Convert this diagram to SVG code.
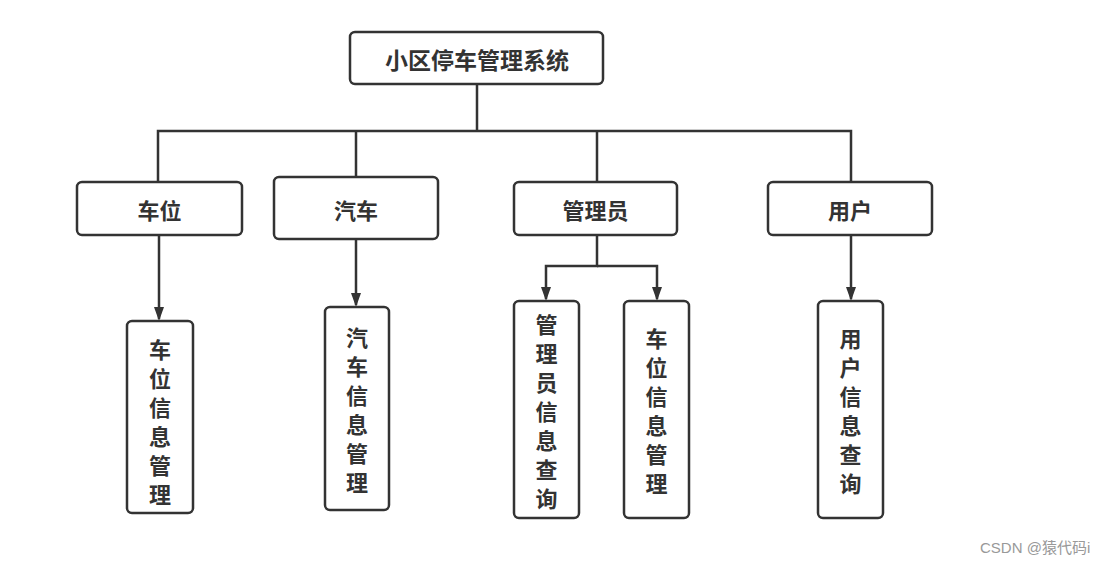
<svg xmlns="http://www.w3.org/2000/svg" width="1106" height="565" viewBox="0 0 1106 565">
<style>
.box{fill:#fff;stroke:#333;stroke-width:2.5}
.t{font-family:"Noto Sans CJK SC","Noto Sans",sans-serif;font-weight:bold;font-size:22px;fill:#333;text-anchor:middle;dominant-baseline:central}
.c{fill:none;stroke:#333;stroke-width:2.5}
.wm{font-family:"Liberation Sans","Noto Sans CJK SC",sans-serif;font-size:15px;fill:#999}
</style>
<defs>
<marker id="ah" viewBox="0 0 10 14" markerUnits="userSpaceOnUse" markerWidth="10" markerHeight="14" refX="5" refY="12" orient="0">
<path d="M0,0 L10,0 L5,14 z" fill="#333"/>
</marker>
</defs>
<rect width="1106" height="565" fill="#fff"/>
<g id="connectors">
<path class="c" d="M477,84 V131 M158,182 V131 H851 V182 M356,131 V177 M597,131 V182"/>
<path class="c" d="M159,235 V319" marker-end="url(#ah)"/>
<path class="c" d="M356,239 V305" marker-end="url(#ah)"/>
<path class="c" d="M597,235 V266 H546 V299" marker-end="url(#ah)"/>
<path class="c" d="M597,266 H657 V299" marker-end="url(#ah)"/>
<path class="c" d="M851,235 V299" marker-end="url(#ah)"/>
</g>
<g id="root"><rect class="box" x="350" y="32" width="253" height="52" rx="5"/><text class="t" x="477" y="59" style="font-size:23px">小区停车管理系统</text></g>
<g id="chewei"><rect class="box" x="77" y="182" width="165" height="53" rx="5"/><text class="t" x="159.5" y="209">车位</text></g>
<g id="qiche"><rect class="box" x="274" y="177" width="164" height="62" rx="5"/><text class="t" x="356" y="209">汽车</text></g>
<g id="admin"><rect class="box" x="514" y="182" width="163" height="53" rx="5"/><text class="t" x="595.5" y="209">管理员</text></g>
<g id="user"><rect class="box" x="768" y="182" width="164" height="53" rx="5"/><text class="t" x="850" y="209">用户</text></g>
<g id="chewei-info"><rect class="box" x="127" y="321" width="66" height="192" rx="5"/>
<text class="t" x="160"><tspan x="160" y="348">车</tspan><tspan x="160" y="377">位</tspan><tspan x="160" y="406">信</tspan><tspan x="160" y="435">息</tspan><tspan x="160" y="464">管</tspan><tspan x="160" y="493">理</tspan></text></g>
<g id="qiche-info"><rect class="box" x="325" y="307" width="64" height="203" rx="5"/>
<text class="t" x="357"><tspan x="357" y="336">汽</tspan><tspan x="357" y="365">车</tspan><tspan x="357" y="394">信</tspan><tspan x="357" y="423">息</tspan><tspan x="357" y="452">管</tspan><tspan x="357" y="481">理</tspan></text></g>
<g id="admin-query"><rect class="box" x="514" y="301" width="65" height="217" rx="5"/>
<text class="t" x="546.5"><tspan x="546.5" y="323">管</tspan><tspan x="546.5" y="352">理</tspan><tspan x="546.5" y="381">员</tspan><tspan x="546.5" y="410">信</tspan><tspan x="546.5" y="439">息</tspan><tspan x="546.5" y="468">查</tspan><tspan x="546.5" y="497">询</tspan></text></g>
<g id="admin-chewei"><rect class="box" x="624" y="301" width="65" height="217" rx="5"/>
<text class="t" x="656.5"><tspan x="656.5" y="337">车</tspan><tspan x="656.5" y="366">位</tspan><tspan x="656.5" y="395">信</tspan><tspan x="656.5" y="424">息</tspan><tspan x="656.5" y="453">管</tspan><tspan x="656.5" y="482">理</tspan></text></g>
<g id="user-query"><rect class="box" x="818" y="301" width="65" height="217" rx="5"/>
<text class="t" x="850.5"><tspan x="850.5" y="337">用</tspan><tspan x="850.5" y="366">户</tspan><tspan x="850.5" y="395">信</tspan><tspan x="850.5" y="424">息</tspan><tspan x="850.5" y="453">查</tspan><tspan x="850.5" y="482">询</tspan></text></g>
<text class="wm" x="980" y="553">CSDN @猿代码i</text>
</svg>
